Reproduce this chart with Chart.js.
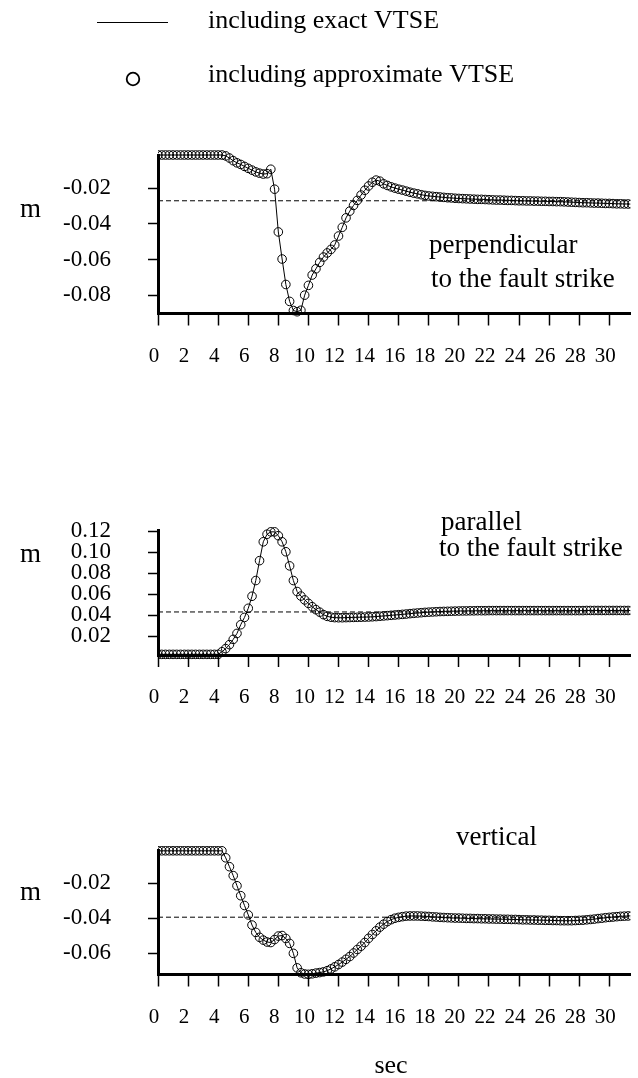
<!DOCTYPE html>
<html>
<head>
<meta charset="utf-8">
<script src="https://cdn.jsdelivr.net/npm/chart.js@4.4.1/dist/chart.umd.min.js"></script>
<style>
  html, body { margin: 0; padding: 0; background: #fff; }
  body { width: 638px; height: 1078px; position: relative; overflow: hidden; }
  canvas { position: absolute; left: 0; }
</style>
</head>
<body>
<canvas id="perpChart" width="638" height="380" style="top:0px"></canvas>
<canvas id="parChart" width="638" height="240" style="top:480px"></canvas>
<canvas id="vertChart" width="638" height="278" style="top:800px"></canvas>
<script>
const SERIF = '"Liberation Serif", "Times New Roman", serif';

// time axis: one sample every 0.25 sec, 0 .. 31.5
const dt = 0.25;
const xMax = 31.4;
const secTicks = [0, 2, 4, 6, 8, 10, 12, 14, 16, 18, 20, 22, 24, 26, 28, 30];

const perpTicks = [-0.08, -0.06, -0.04, -0.02];
const parTicks = [0.02, 0.04, 0.06, 0.08, 0.10, 0.12];
const vertTicks = [-0.06, -0.04, -0.02];

// static (final) displacement, dashed lines
const perpLevel = -0.027;
const parLevel = 0.043;
const vertLevel = -0.0395;

// displacement, m (8 samples = 2 sec per row)
const perpValues = [
  -0.0013, -0.0013, -0.0013, -0.0013, -0.0013, -0.0013, -0.0013, -0.0013,
  -0.0013, -0.0013, -0.0013, -0.0013, -0.0013, -0.0013, -0.0013, -0.0013,
  -0.0013, -0.0013, -0.0018, -0.0030, -0.0045, -0.0057, -0.0066, -0.0077,
  -0.0088, -0.0098, -0.0108, -0.0115, -0.0120, -0.0118, -0.0093, -0.0205,
  -0.0445, -0.0597, -0.0740, -0.0835, -0.0886, -0.0893, -0.0885, -0.0800,
  -0.0745, -0.0687, -0.0652, -0.0616, -0.0586, -0.0563, -0.0543, -0.0518,
  -0.0468, -0.0419, -0.0366, -0.0328, -0.0296, -0.0268, -0.0238, -0.0211,
  -0.0187, -0.0166, -0.0154, -0.0160, -0.0175, -0.0184, -0.0192, -0.0199,
  -0.0205, -0.0210, -0.0216, -0.0222, -0.0227, -0.0231, -0.0236, -0.0240,
  -0.0243, -0.0245, -0.0247, -0.0249, -0.0251, -0.0253, -0.0254, -0.0256,
  -0.0257, -0.0258, -0.0259, -0.0260, -0.0261, -0.0262, -0.0262, -0.0263,
  -0.0264, -0.0265, -0.0266, -0.0266, -0.0267, -0.0268, -0.0268, -0.0269,
  -0.0270, -0.0270, -0.0271, -0.0271, -0.0272, -0.0272, -0.0273, -0.0273,
  -0.0274, -0.0274, -0.0275, -0.0275, -0.0276, -0.0277, -0.0278, -0.0279,
  -0.0280, -0.0281, -0.0281, -0.0282, -0.0283, -0.0283, -0.0284, -0.0285,
  -0.0285, -0.0286, -0.0287, -0.0287, -0.0288, -0.0288, -0.0289
];

const parValues = [
  0.0025, 0.0025, 0.0025, 0.0025, 0.0025, 0.0025, 0.0025, 0.0025,
  0.0025, 0.0025, 0.0025, 0.0025, 0.0025, 0.0025, 0.0025, 0.0025,
  0.0025, 0.0050, 0.0080, 0.0118, 0.0168, 0.0225, 0.0308, 0.0378,
  0.0465, 0.0580, 0.0730, 0.0920, 0.1100, 0.1172, 0.1195, 0.1195,
  0.1158, 0.1100, 0.1005, 0.0870, 0.0730, 0.0625, 0.0582, 0.0545,
  0.0512, 0.0480, 0.0452, 0.0428, 0.0404, 0.0388, 0.0380, 0.0376,
  0.0375, 0.0375, 0.0376, 0.0377, 0.0378, 0.0379, 0.0380, 0.0381,
  0.0382, 0.0384, 0.0386, 0.0389, 0.0392, 0.0395, 0.0398, 0.0401,
  0.0404, 0.0407, 0.0410, 0.0414, 0.0417, 0.0420, 0.0423, 0.0426,
  0.0428, 0.0430, 0.0432, 0.0434, 0.0435, 0.0436, 0.0437, 0.0438,
  0.0439, 0.0440, 0.0440, 0.0441, 0.0441, 0.0442, 0.0442, 0.0442,
  0.0443, 0.0443, 0.0443, 0.0443, 0.0443, 0.0443, 0.0443, 0.0443,
  0.0443, 0.0443, 0.0443, 0.0443, 0.0443, 0.0443, 0.0443, 0.0443,
  0.0443, 0.0443, 0.0443, 0.0443, 0.0443, 0.0443, 0.0443, 0.0443,
  0.0443, 0.0443, 0.0444, 0.0444, 0.0444, 0.0444, 0.0444, 0.0444,
  0.0444, 0.0444, 0.0444, 0.0444, 0.0444, 0.0444, 0.0444
];

const vertValues = [
  -0.0015, -0.0015, -0.0015, -0.0015, -0.0015, -0.0015, -0.0015, -0.0015,
  -0.0015, -0.0015, -0.0015, -0.0015, -0.0015, -0.0015, -0.0015, -0.0015,
  -0.0015, -0.0015, -0.0055, -0.0106, -0.0157, -0.0215, -0.0272, -0.0328,
  -0.0382, -0.0440, -0.0482, -0.0510, -0.0526, -0.0537, -0.0540, -0.0523,
  -0.0503, -0.0500, -0.0517, -0.0545, -0.0602, -0.0685, -0.0713, -0.0720,
  -0.0722, -0.0719, -0.0715, -0.0712, -0.0708, -0.0701, -0.0691, -0.0679,
  -0.0666, -0.0652, -0.0636, -0.0620, -0.0600, -0.0580, -0.0561, -0.0540,
  -0.0516, -0.0494, -0.0473, -0.0452, -0.0435, -0.0420, -0.0409, -0.0401,
  -0.0396, -0.0392, -0.0389, -0.0388, -0.0388, -0.0388, -0.0389, -0.0390,
  -0.0391, -0.0393, -0.0394, -0.0396, -0.0397, -0.0398, -0.0399, -0.0400,
  -0.0400, -0.0401, -0.0402, -0.0402, -0.0403, -0.0403, -0.0404, -0.0404,
  -0.0405, -0.0405, -0.0406, -0.0406, -0.0407, -0.0407, -0.0408, -0.0408,
  -0.0409, -0.0410, -0.0410, -0.0411, -0.0411, -0.0412, -0.0412, -0.0413,
  -0.0413, -0.0414, -0.0414, -0.0415, -0.0415, -0.0415, -0.0415, -0.0414,
  -0.0413, -0.0412, -0.0410, -0.0408, -0.0406, -0.0403, -0.0401, -0.0398,
  -0.0396, -0.0394, -0.0392, -0.0390, -0.0389, -0.0388, -0.0387
];

function points(values) {
  return values.map((v, i) => ({ x: i * dt, y: v }));
}

// writes labels straight onto the canvas (x, y in canvas pixels)
function notesPlugin(notes) {
  return {
    id: 'notes',
    afterDraw(chart) {
      const ctx = chart.ctx;
      ctx.save();
      ctx.fillStyle = '#000';
      notes.forEach(n => {
        ctx.font = n.size + 'px ' + SERIF;
        ctx.textAlign = n.align || 'left';
        ctx.textBaseline = n.base || 'alphabetic';
        ctx.fillText(n.text, n.x, n.y);
      });
      ctx.restore();
    }
  };
}

const legendPlugin = {
  id: 'figLegend',
  afterDraw(chart) {
    const ctx = chart.ctx;
    ctx.save();
    ctx.strokeStyle = '#000';
    ctx.lineWidth = 1;
    ctx.beginPath();
    ctx.moveTo(97, 22.5);
    ctx.lineTo(168, 22.5);
    ctx.stroke();
    ctx.lineWidth = 1.8;
    ctx.beginPath();
    ctx.arc(133, 79, 6.3, 0, Math.PI * 2);
    ctx.stroke();
    ctx.fillStyle = '#000';
    ctx.font = '26px ' + SERIF;
    ctx.textAlign = 'left';
    ctx.textBaseline = 'middle';
    ctx.fillText('including exact VTSE', 208, 21);
    ctx.fillText('including approximate VTSE', 208, 75);
    ctx.restore();
  }
};

function makeChart(id, values, level, yMin, yMax, yTicks, padTop, xHeight, plugins) {
  return new Chart(document.getElementById(id), {
    type: 'line',
    data: {
      datasets: [
        {
          label: 'including exact VTSE',
          data: points(values),
          borderColor: '#000',
          borderWidth: 1,
          pointRadius: 0,
          tension: 0,
          order: 2,
          clip: { left: 0, top: 5, right: 0, bottom: 5 }
        },
        {
          label: 'including approximate VTSE',
          data: points(values),
          showLine: false,
          pointRadius: 4.3,
          pointBorderWidth: 1,
          pointBorderColor: '#000',
          pointBackgroundColor: 'rgba(0,0,0,0)',
          order: 1,
          clip: { left: 0, top: 5, right: 0, bottom: 5 }
        },
        {
          label: 'static',
          data: [{ x: 0, y: level }, { x: xMax, y: level }],
          borderColor: '#000',
          borderWidth: 1,
          borderDash: [5, 3],
          pointRadius: 0,
          order: 3
        }
      ]
    },
    options: {
      responsive: false,
      animation: false,
      devicePixelRatio: 1,
      layout: { padding: { top: padTop, left: 0, right: 0, bottom: 0 } },
      plugins: { legend: { display: false }, tooltip: { enabled: false } },
      scales: {
        x: {
          type: 'linear',
          min: 0,
          max: xMax,
          afterBuildTicks: s => { s.ticks = secTicks.map(v => ({ value: v })); },
          afterFit: s => { s.height = xHeight; },
          ticks: {
            autoSkip: false,
            maxRotation: 0,
            padding: 18,
            labelOffset: -4,
            color: '#000',
            font: { family: SERIF, size: 21 },
            callback: v => String(v)
          },
          grid: {
            drawOnChartArea: false,
            drawTicks: true,
            tickLength: 12,
            tickWidth: 1.5,
            tickColor: '#000'
          },
          border: { display: true, color: '#000', width: 3 }
        },
        y: {
          type: 'linear',
          min: yMin,
          max: yMax,
          afterBuildTicks: s => { s.ticks = yTicks.map(v => ({ value: v })); },
          afterFit: s => { s.width = 158; },
          ticks: {
            autoSkip: false,
            padding: 37,
            color: '#000',
            font: { family: SERIF, size: 23 },
            callback: v => v.toFixed(2)
          },
          grid: {
            drawOnChartArea: false,
            drawTicks: true,
            tickLength: 10,
            tickWidth: 1.5,
            tickColor: '#000'
          },
          border: { display: true, color: '#000', width: 3 }
        }
      }
    },
    plugins: plugins
  });
}

// perpendicular: canvas top 0, plot area 155..313.5
makeChart('perpChart', perpValues, perpLevel, -0.0903, -0.0013, perpTicks, 155, 66.5, [
  legendPlugin,
  notesPlugin([
    { text: 'm', x: 20, y: 210, size: 27, base: 'middle' },
    { text: 'perpendicular', x: 429, y: 253, size: 27 },
    { text: 'to the fault strike', x: 431, y: 286.5, size: 27 }
  ])
]);

// parallel: canvas top 480, plot area 496..655
makeChart('parChart', parValues, parLevel, 0.0019, 0.1205, parTicks, 16, 65, [
  notesPlugin([
    { text: 'm', x: 20, y: 75, size: 27, base: 'middle' },
    { text: 'parallel', x: 441, y: 50, size: 27 },
    { text: 'to the fault strike', x: 439, y: 75.5, size: 27 }
  ])
]);

// vertical: canvas top 800, plot area 816..974.5
makeChart('vertChart', vertValues, vertLevel, -0.0723, -0.0015, vertTicks, 16, 103.5, [
  notesPlugin([
    { text: 'm', x: 20, y: 93, size: 27, base: 'middle' },
    { text: 'vertical', x: 456, y: 45, size: 27 },
    { text: 'sec', x: 391, y: 266, size: 26, align: 'center', base: 'middle' }
  ])
]);
</script>
</body>
</html>
